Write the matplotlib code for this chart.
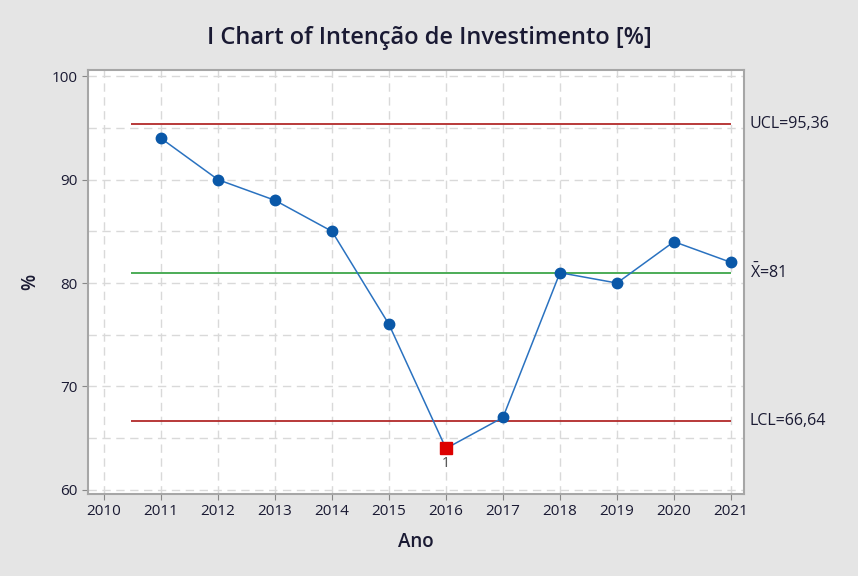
import matplotlib
matplotlib.use("Agg")
import matplotlib.pyplot as plt
import numpy as np

years = [2011, 2012, 2013, 2014, 2015, 2016, 2017, 2018, 2019, 2020, 2021]
values = [94, 90, 88, 85, 76, 64, 67, 81, 80, 84, 82]
ucl = 95.36
center = 81
lcl = 66.64
out_flags = [2016]
xticks = list(range(2010, 2022))

plt.rcParams['font.family'] = ['Open Sans', 'DejaVu Sans']
plt.rcParams['mathtext.fontset'] = 'custom'
plt.rcParams['mathtext.rm'] = 'Open Sans'

text_col = '#1a1a33'
bg = '#e5e5e5'

fig = plt.figure(figsize=(8.58, 5.76), dpi=100, facecolor=bg)
ax = fig.add_axes([0.1026, 0.1424, 0.7646, 0.736])
ax.set_facecolor('white')

ax.set_xlim(2009.72, 2021.23)
ax.set_ylim(59.6, 100.6)
ax.set_xticks(xticks)
ax.set_yticks([60, 70, 80, 90, 100])
ax.set_yticks([65, 75, 85, 95], minor=True)
ax.grid(True, which='both', color='#d9d9d9', linestyle=(0, (6, 4)), linewidth=1)
ax.set_axisbelow(True)
ax.tick_params(axis='both', which='major', labelsize=11, colors='#888888',
               labelcolor=text_col, length=4)
ax.tick_params(axis='y', which='minor', length=0)
for lab in ax.get_xticklabels() + ax.get_yticklabels():
    lab.set_fontweight('medium')
for s in ax.spines.values():
    s.set_color('#a6a6a6')
    s.set_linewidth(1.5)

x0 = 2010.47
x1 = 2021
ax.hlines([ucl, lcl], x0, x1, color='#b22a2a', linewidth=1.3)
ax.hlines(center, x0, x1, color='#3ea64a', linewidth=1.3)

ax.plot(years, values, color='#2a72c0', linewidth=1.1, zorder=3)
normal = [(x, v) for x, v in zip(years, values) if x not in out_flags]
ax.plot([p[0] for p in normal], [p[1] for p in normal], 'o', color='#0a58a8',
        markersize=7.5, zorder=4)
bad = [(x, v) for x, v in zip(years, values) if x in out_flags]
for x, v in bad:
    ax.plot(x, v, 's', color='#dd0000', markersize=8, zorder=5)
    ax.text(x, v - 0.7, '1', ha='center', va='top', fontsize=10, color='#4a4a4a')

lx = 2021.33
ax.text(lx, ucl, 'UCL=95,36', ha='left', va='center', fontsize=11.5, color=text_col,
        fontweight='medium', clip_on=False)
ax.text(lx, center, r'$\bar{\mathrm{X}}$=81', ha='left', va='center', fontsize=11.5,
        color=text_col, fontweight='medium', clip_on=False)
ax.text(lx, lcl, 'LCL=66,64', ha='left', va='center', fontsize=11.5, color=text_col,
        fontweight='medium', clip_on=False)

fig.text(0.501, 0.934, 'I Chart of Intenção de Investimento [%]', ha='center', va='center',
         fontsize=17, fontweight='semibold', color=text_col)
ax.set_xlabel('Ano', fontsize=13.5, fontweight='semibold', color=text_col, labelpad=9)
ax.set_ylabel('%', fontsize=13.5, fontweight='semibold', color=text_col, labelpad=8)

fig.savefig('out.png', dpi=100, facecolor=bg)
